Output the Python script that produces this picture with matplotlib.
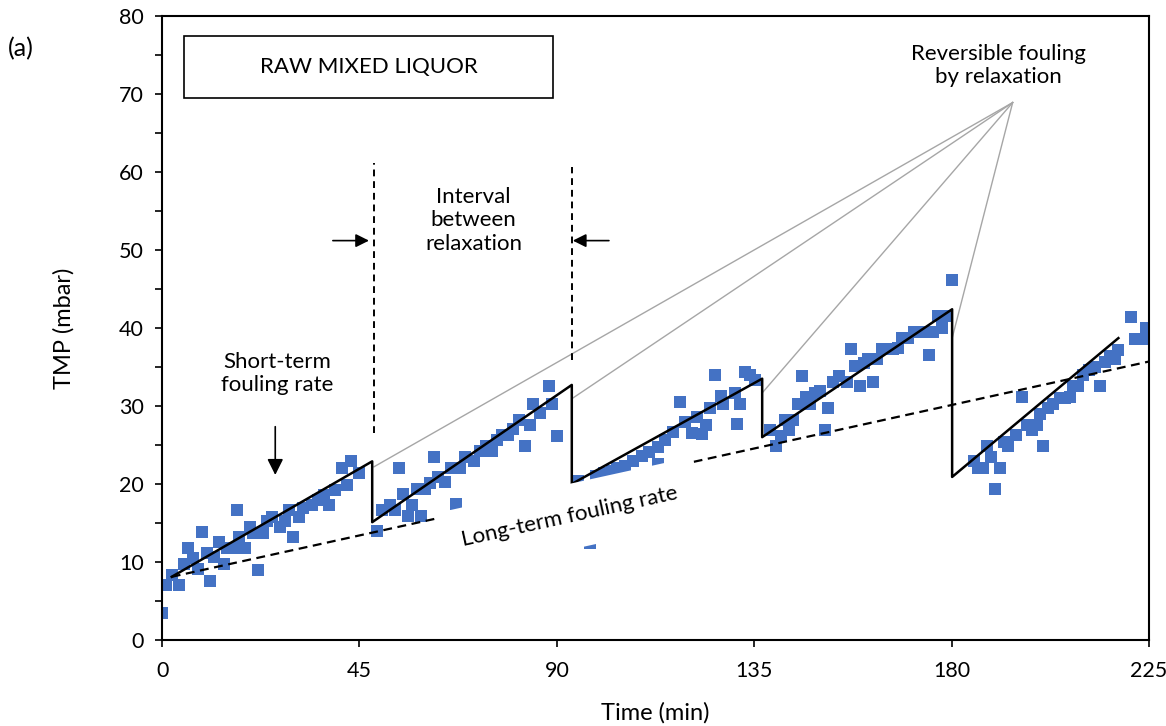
import numpy as np
import matplotlib
matplotlib.use("Agg")
import matplotlib.pyplot as plt
from matplotlib.patches import Rectangle

plt.rcParams['font.family'] = ['Lato', 'DejaVu Sans']

# measured TMP (mbar) vs time (min)
time_min = [
    0, 1, 2.2, 3.9, 4.9, 6, 7, 8.1, 9, 10.2, 10.9, 11.9, 13, 14.1, 14.9, 16.2, 17, 17.6,
    18.9, 20.1, 20.8, 21.9, 23.1, 23.9, 25, 26.9, 28, 29, 29.9, 31.1, 32.2, 34.1, 35.6,
    36.8, 38.1, 39.4, 41, 42.1, 43, 44.8,
    49.1, 50.1, 52, 53, 54, 55, 56, 56.9, 58.2, 59, 60, 61.1, 62, 63, 64.5, 65.8, 67,
    67.9, 69.1, 71.1, 72.5, 73.9, 75.2, 76.3, 77.6, 78.9, 80.1, 81.4, 82.7, 83.9, 84.6,
    86.2, 88.1, 88.8, 90,
    94.8, 97.5, 98.9, 100.8, 102.5, 103.6, 105.5, 107.4, 109.5, 111, 113, 113.1, 114.7,
    116.5, 118.1, 119.2, 120.7, 121.9, 123, 124.1, 124.9, 126.1, 127.4, 127.9, 130.6,
    131, 131.8, 132.9, 134, 135.2,
    138.6, 139.9, 141, 142, 143, 143.9, 145, 145.9, 146.9, 147.7, 148.8, 150, 151.1,
    151.9, 153, 154.4, 156.1, 157, 158, 159, 159.9, 161, 162, 162.9, 164, 165.2, 166.7,
    167.8, 168.6, 170.1, 171.3, 172.8, 173.9, 174.9, 175.8, 176.9, 177.9, 178.9, 180,
    185, 186.1, 187.2, 188, 189, 189.9, 191, 191.9, 192.9, 194.7, 196, 197.1, 198.2,
    199.4, 200.1, 200.9, 202, 203.2, 204.7, 205.8, 207, 207.7, 208.9, 210, 211.4, 212.7,
    213.9, 214.9, 216.1, 217.2, 218, 220.9, 221.8, 223.3, 224.4,
]
tmp_mbar = [
    3.5, 7.0, 8.3, 7.0, 9.8, 11.8, 10.5, 9.1, 13.8, 11.1, 7.6, 10.6, 12.5, 9.7, 11.8, 11.8, 16.6, 13.2,
    11.8, 14.5, 13.7, 9.0, 13.7, 15.2, 15.8, 14.5, 15.2, 16.6, 13.2, 15.8, 16.9, 17.3, 17.9,
    18.6, 17.3, 19.2, 22.0, 19.9, 22.9, 21.4,
    14.0, 16.6, 17.3, 16.6, 22.1, 18.7, 15.9, 17.3, 19.4, 15.9, 19.4, 20.1, 23.5, 20.9, 20.3, 22.0, 17.4,
    22.1, 23.5, 22.9, 24.2, 24.9, 24.2, 25.6, 26.3, 26.3, 27.1, 28.2, 24.9, 27.6, 30.3,
    29.1, 32.5, 30.3, 26.2,
    20.4, 12.4, 21.0, 21.4, 21.6, 22.0, 22.3, 22.9, 23.6, 24.1, 22.6, 24.8, 25.6,
    26.7, 30.5, 27.9, 26.5, 28.6, 26.4, 27.6, 29.7, 34.0, 31.3, 30.3, 31.6,
    27.7, 30.3, 34.4, 34.0, 33.3,
    26.9, 24.9, 26.1, 28.2, 26.9, 28.2, 30.3, 33.8, 31.1, 30.3, 31.7, 31.9, 26.9,
    29.7, 33.1, 33.8, 33.1, 37.3, 35.1, 32.5, 35.5, 36.0, 33.1, 36.0, 37.3, 37.3, 37.3,
    37.4, 38.7, 38.7, 39.5, 39.5, 39.5, 36.5, 39.5, 41.5, 40.0, 41.5, 46.2,
    22.9, 22.1, 22.1, 24.9, 23.5, 19.4, 22.1, 25.4, 24.9, 26.3, 31.1, 27.6, 26.9,
    27.6, 29.0, 24.9, 29.7, 30.3, 31.0, 31.0, 31.1, 32.5, 32.5, 34.0, 34.6, 35.0,
    32.5, 35.7, 36.4, 36.0, 37.2, 41.4, 38.6, 38.6, 40.0,
]

# short-term fouling sawtooth (start, peak, drop after each relaxation)
saw_t = [2.2, 47.9, 47.9, 93.4, 93.4, 136.8, 136.8, 180.1, 180.1, 218.0]
saw_tmp = [8.1, 22.9, 15.1, 32.7, 20.0, 33.5, 26.0, 42.4, 20.9, 38.7]

# long-term fouling trend
long_t = [2.2, 225]
long_tmp = [8.1, 35.7]

# relaxation points the "reversible fouling" callout points to
rev_t = [48.3, 93.6, 137.0, 180.2]
rev_tmp = [22.2, 31.0, 31.8, 38.9]

fig = plt.figure(figsize=(11.66, 7.26), dpi=100)
ax = fig.add_axes([0.139, 0.1185, 0.8465, 0.8595])

ax.plot(long_t, long_tmp, color='black', lw=1.6, ls=(0, (4, 2.5)), zorder=3)
ax.scatter(time_min, tmp_mbar, marker='s', s=64, color='#4472C4', lw=0, zorder=2)
ax.plot(saw_t, saw_tmp, color='black', lw=1.8, zorder=4)

# callout lines from the label to each relaxation
for t, p in zip(rev_t, rev_tmp):
    ax.plot([193.9, t], [68.9, p], color='#a6a6a6', lw=1.0, zorder=1)

ax.text(190.7, 73.6, "Reversible fouling\nby relaxation", ha='center', va='center',
        fontsize=16, linespacing=1.2)

# interval between relaxations
ax.plot([48.4, 48.4], [26.5, 61.2], color='black', lw=1.4, ls=(0, (3.5, 2.5)))
ax.plot([93.4, 93.4], [35.9, 60.6], color='black', lw=1.4, ls=(0, (3.5, 2.5)))
ax.annotate("", xy=(47.8, 51.2), xytext=(38.3, 51.2),
            arrowprops=dict(arrowstyle='-|>', color='black', lw=1.2, mutation_scale=20))
ax.annotate("", xy=(93.0, 51.2), xytext=(102.5, 51.2),
            arrowprops=dict(arrowstyle='-|>', color='black', lw=1.2, mutation_scale=20))
ax.text(71, 53.8, "Interval\nbetween\nrelaxation", ha='center', va='center',
        fontsize=16, linespacing=1.2)

# short-term fouling rate
ax.annotate("", xy=(25.8, 20.8), xytext=(25.8, 27.7),
            arrowprops=dict(arrowstyle='-|>', color='black', lw=1.2, mutation_scale=24))
ax.text(26.3, 34.2, "Short-term\nfouling rate", ha='center', va='center',
        fontsize=16, linespacing=1.2)

ax.text(93, 15.8, "Long-term fouling rate", ha='center', va='center', fontsize=16,
        rotation=12.4, rotation_mode='anchor', zorder=5,
        bbox=dict(boxstyle='square,pad=1.0', fc='white', ec='none'))

ax.add_patch(Rectangle((5.1, 69.5), 84.0, 7.9, fc='white', ec='black', lw=1.2, zorder=5))
ax.text(47.1, 73.5, "RAW MIXED LIQUOR", ha='center', va='center', fontsize=16, zorder=6)

fig.text(0.007, 0.922, "(a)", fontsize=18)

ax.set_xlim(0, 225)
ax.set_ylim(0, 80)
ax.set_xticks(np.arange(0, 226, 45))
ax.set_yticks(np.arange(0, 81, 10))
ax.set_yticks(np.arange(5, 80, 10), minor=True)
ax.tick_params(axis='both', which='both', direction='out', length=5, width=1.2,
               labelsize=15.5, colors='black')
ax.tick_params(axis='x', pad=10)
ax.tick_params(axis='y', pad=8)
for s in ax.spines.values():
    s.set_linewidth(1.5)

ax.set_xlabel("Time (min)", fontsize=17, labelpad=15)
ax.set_ylabel("TMP (mbar)", fontsize=17, labelpad=32)

fig.savefig("out.png", dpi=100)
